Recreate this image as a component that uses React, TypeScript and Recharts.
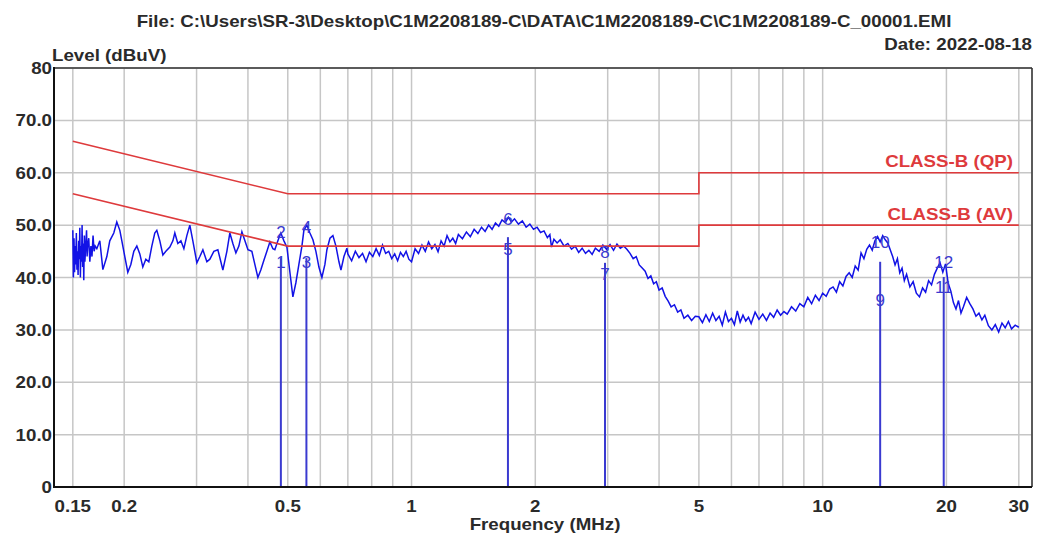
import { ComposedChart, Line, XAxis, YAxis, CartesianGrid, ReferenceLine, Scatter } from "recharts";

const TITLE = "File: C:\\Users\\SR-3\\Desktop\\C1M2208189-C\\DATA\\C1M2208189-C\\C1M2208189-C_00001.EMI";
const DATE = "Date: 2022-08-18";

const gridFreqs = [0.15, 0.2, 0.3, 0.4, 0.5, 0.6, 0.7, 0.8, 0.9, 1, 2, 3, 4, 5, 6, 7, 8, 9, 10, 20, 30];
const labelFreqs = [0.15, 0.2, 0.5, 1, 2, 5, 10, 20, 30];
const levelTicks = [0, 10, 20, 30, 40, 50, 60, 70, 80];

// limit lines (freq MHz, dBuV)
const qpLimit: [number, number][] = [[0.15, 66], [0.5, 56], [5, 56], [5, 60], [30, 60]];
const avLimit: [number, number][] = [[0.15, 56], [0.5, 46], [5, 46], [5, 50], [30, 50]];

// markers: odd = lower label on the line, even = upper label
const markerFreq = [0.481, 0.555, 1.716, 2.955, 13.8, 19.7];
const markerTop = [43.7, 43.7, 47.7, 42.8, 43.0, 40.1];
const oddLevel = [42.8, 42.8, 45.3, 40.5, 35.7, 38.0];
const evenLevel = [48.5, 49.6, 51.0, 44.7, 46.6, 42.8];

// scan trace
const trace: [number, number][] = [
  [0.15, 49], [0.1505, 40], [0.151, 47.5], [0.1515, 41], [0.152, 46], [0.1525, 42.5], [0.153, 48.5], [0.1535, 41.5],
  [0.154, 45], [0.1545, 40.5], [0.155, 47], [0.1555, 43.5], [0.156, 49.5], [0.1565, 40], [0.157, 46], [0.1575, 43],
  [0.158, 50], [0.1585, 42], [0.159, 46.5], [0.1595, 39.5], [0.16, 48], [0.1605, 43], [0.161, 45], [0.162, 49],
  [0.1625, 44], [0.163, 46], [0.164, 47.5], [0.165, 43], [0.166, 46], [0.167, 44], [0.168, 48], [0.169, 45], [0.17, 46],
  [0.1716, 45.5], [0.1745, 47], [0.1775, 41.5], [0.1815, 44], [0.1845, 47], [0.1887, 48.5], [0.1919, 50.6], [0.1952, 49],
  [0.1974, 47], [0.2007, 44], [0.2041, 41], [0.2076, 42.5], [0.2111, 45], [0.2147, 46], [0.2183, 44.5], [0.222, 42],
  [0.2258, 43.5], [0.2296, 43], [0.2335, 46], [0.2374, 48.5], [0.2401, 49], [0.2442, 47], [0.2484, 44.3], [0.2526, 45],
  [0.2583, 45.8], [0.2627, 47], [0.2656, 48.5], [0.2701, 46.5], [0.2748, 47], [0.2794, 45.5], [0.2841, 48], [0.2889, 50],
  [0.2938, 47], [0.3005, 42.8], [0.3056, 44], [0.3108, 45.3], [0.3178, 43], [0.3232, 43.5], [0.3305, 45], [0.338, 45.3],
  [0.3437, 43], [0.3476, 41.4], [0.3555, 45], [0.3615, 48.5], [0.3676, 46.5], [0.3739, 44.7], [0.3802, 46], [0.3867, 48.7],
  [0.3933, 47], [0.4, 45.3], [0.4089, 45], [0.4158, 42.5], [0.4229, 40], [0.4301, 41.5], [0.4374, 43.3], [0.4448, 45],
  [0.4524, 46.8], [0.46, 45.5], [0.4651, 45.3], [0.473, 47], [0.481, 48.5], [0.4893, 47], [0.4976, 45.8], [0.506, 41],
  [0.5145, 36.3], [0.5232, 39], [0.5321, 42.5], [0.5412, 46], [0.5472, 49], [0.5565, 50], [0.566, 48.5], [0.5756, 47.2],
  [0.5853, 45], [0.5952, 42], [0.6053, 40], [0.6156, 42.5], [0.6225, 45.3], [0.6332, 47.5], [0.6438, 48], [0.6548, 46],
  [0.6659, 43], [0.6734, 41.4], [0.6848, 44], [0.6963, 45.6],
  [0.7, 44.5], [0.715, 43.2], [0.73, 45], [0.745, 43.8], [0.76, 44.6], [0.775, 43], [0.79, 44.8], [0.805, 44],
  [0.82, 45.5], [0.835, 44.2], [0.85, 46.2], [0.865, 44.6], [0.88, 45], [0.895, 43.6], [0.91, 44.5], [0.925, 43.2],
  [0.94, 44.8], [0.955, 44], [0.97, 45], [0.985, 43.5], [1.0, 43],
  [1.02, 45.5], [1.04, 44.6], [1.06, 46.2], [1.08, 45], [1.1, 46.8], [1.12, 45.5], [1.14, 46.3], [1.16, 44.9],
  [1.18, 47], [1.2, 46], [1.22, 48], [1.24, 46.8], [1.26, 47.5], [1.28, 46.5], [1.3, 48.2], [1.33, 47.4],
  [1.36, 48.7], [1.39, 47.8], [1.42, 49.2], [1.45, 48.4], [1.48, 49.6], [1.51, 48.8], [1.54, 50], [1.57, 49.2],
  [1.6, 50.4], [1.63, 49.8], [1.66, 51], [1.69, 50.5], [1.72, 51.5], [1.75, 50.6], [1.78, 51.2],
  [1.82, 50.2], [1.86, 50.8], [1.9, 49.6], [1.94, 50.2], [1.98, 49.2], [2.02, 49.6], [2.06, 48.6], [2.1, 48.9],
  [2.14, 47.6], [2.17, 48.2], [2.19, 45.8], [2.22, 47.3], [2.26, 46.6], [2.3, 47.2], [2.35, 46], [2.4, 46.5],
  [2.45, 45.4], [2.5, 46], [2.55, 44.8], [2.6, 45.6], [2.65, 44.6], [2.7, 45.2], [2.75, 44.4], [2.8, 45.6],
  [2.86, 45], [2.92, 46.2], [2.98, 45.4], [3.04, 46.3], [3.1, 45.2], [3.16, 46.4], [3.22, 45.6], [3.28, 46],
  [3.34, 45.4], [3.4, 44.6], [3.46, 43.6], [3.52, 44], [3.58, 42.4], [3.64, 41.8], [3.7, 41.2], [3.76, 39.8],
  [3.82, 40.3], [3.88, 38.8], [3.94, 39.2], [4.0, 37.6], [4.07, 38], [4.14, 36.4], [4.21, 35.5], [4.28, 34.4],
  [4.36, 34.8], [4.44, 33.4], [4.52, 33.8], [4.6, 32.2], [4.7, 32.8], [4.8, 31.8], [4.9, 32.6], [5.0, 32.5],
  [5.1, 31.4], [5.2, 32.9], [5.3, 31.6], [5.4, 33.2], [5.5, 31.8], [5.6, 32.6], [5.7, 30.9], [5.8, 33.4],
  [5.9, 31.6], [6.0, 32.2], [6.1, 31], [6.2, 33.6], [6.3, 31.5], [6.4, 32.8], [6.5, 31.7], [6.6, 32.4],
  [6.7, 31.2], [6.85, 33.4], [7.0, 32], [7.15, 33], [7.3, 31.8], [7.45, 33.2], [7.6, 32.4], [7.75, 33.8],
  [7.9, 32.8], [8.05, 33.5], [8.2, 33], [8.4, 34.4], [8.6, 33.6], [8.8, 35], [9.0, 34.4], [9.2, 36.2],
  [9.4, 35], [9.6, 36.6], [9.8, 35.6], [10.0, 37], [10.2, 36.4], [10.4, 37.8], [10.6, 38.2], [10.8, 37.2],
  [11.0, 39.2], [11.2, 38.4], [11.4, 40.2], [11.6, 40.9], [11.8, 40], [12.0, 42.2], [12.2, 41.4], [12.4, 44.7],
  [12.6, 43.6], [12.8, 45.4], [13.0, 46.2], [13.2, 45.2], [13.4, 47], [13.6, 47.8], [13.8, 46.8], [14.0, 48],
  [14.2, 47.2], [14.4, 46.6], [14.6, 45.3], [14.8, 44], [15.0, 42.4], [15.2, 43.6], [15.4, 40.9], [15.6, 41.8],
  [15.8, 39.4], [16.0, 40.6], [16.3, 38.2], [16.6, 39.2], [16.9, 37], [17.2, 36.3], [17.5, 38], [17.8, 37.2],
  [18.1, 39.4], [18.4, 38.6], [18.7, 40.6], [19.0, 41.8], [19.3, 42.8], [19.6, 41], [19.9, 42.6], [20.2, 38.9],
  [20.5, 37.4], [20.8, 35.2], [21.1, 34], [21.4, 35.6], [21.7, 33.2], [22.0, 34.4], [22.4, 36.2], [22.8, 35],
  [23.2, 34], [23.6, 32.6], [24.0, 33.2], [24.4, 31.9], [24.8, 32.8], [25.3, 30.8], [25.8, 30], [26.3, 31],
  [26.8, 29.6], [27.3, 31.3], [27.8, 30.4], [28.3, 31.6], [28.8, 30.2], [29.4, 30.9], [30.0, 30.5],
];

const toRows = (pts: [number, number][]) => pts.map(([f, v]) => ({ f, v }));
const traceData = toRows(trace);
const qpData = toRows(qpLimit);
const avData = toRows(avLimit);
const markerLabels = markerFreq.flatMap((f, i) => [
  { f, v: oddLevel[i], n: String(2 * i + 1) },
  { f, v: evenLevel[i], n: String(2 * i + 2) },
]);

const FONT = "'Liberation Sans', Arial, sans-serif";
const SX = 1.17; // text in the picture is wider than normal
const TEXT = "#2a2a2a";
const RED = "#de3a3c";
const MARK = "#3a3ad0";

const FreqTick = (props: any) => {
  const { x, y, payload } = props;
  if (!labelFreqs.includes(payload.value)) return <g />;
  return (
    <text transform={`translate(${x},${y + 25}) scale(${SX},1)`} textAnchor="middle" fontFamily={FONT} fontWeight={700} fontSize={16} fill={TEXT}>
      {payload.value}
    </text>
  );
};

const LevelTick = (props: any) => {
  const { x, y, payload } = props;
  const v = payload.value;
  const txt = v === 0 || v === 80 ? String(v) : v.toFixed(1);
  return (
    <text transform={`translate(${x - 2},${y + 6}) scale(${SX},1)`} textAnchor="end" fontFamily={FONT} fontWeight={700} fontSize={16} fill={TEXT}>
      {txt}
    </text>
  );
};

const MarkerLabel = (props: any) => {
  const { cx, cy, payload } = props;
  return (
    <text x={cx} y={cy} textAnchor="middle" dominantBaseline="central" fontFamily={FONT} fontSize={17} fill={MARK}>
      {payload.n}
    </text>
  );
};

const Txt = ({ x, y, anchor, fill, children }: any) => (
  <text transform={`translate(${x},${y}) scale(${SX},1)`} textAnchor={anchor} fontFamily={FONT} fontWeight={700} fontSize={16} fill={fill}>
    {children}
  </text>
);

export default function App() {
  return (
    <div style={{ position: "absolute", left: 0, top: 0, width: 1042, height: 537, background: "#fff" }}>
      <ComposedChart width={1042} height={537} margin={{ top: 68, right: 10, bottom: 0, left: 0 }}>
        <CartesianGrid stroke="#c6c6c6" strokeWidth={1.5} />
        <XAxis
          dataKey="f"
          type="number"
          scale="log"
          domain={[0.135, 32.3]}
          allowDataOverflow
          ticks={gridFreqs}
          interval={0}
          tick={<FreqTick />}
          tickLine={false}
          tickSize={0}
          tickMargin={0}
          axisLine={false}
          height={50}
        />
        <YAxis
          type="number"
          domain={[0, 80]}
          allowDataOverflow
          ticks={levelTicks}
          interval={0}
          width={54}
          tick={<LevelTick />}
          tickLine={false}
          tickSize={0}
          tickMargin={0}
          axisLine={false}
        />
        <Line data={traceData} dataKey="v" type="linear" stroke="#1212e6" strokeWidth={1.5} dot={false} activeDot={false} isAnimationActive={false} />
        <Line data={qpData} dataKey="v" type="linear" stroke={RED} strokeWidth={1.6} dot={false} activeDot={false} isAnimationActive={false} />
        <Line data={avData} dataKey="v" type="linear" stroke={RED} strokeWidth={1.6} dot={false} activeDot={false} isAnimationActive={false} />
        {markerFreq.map((f, i) => (
          <ReferenceLine key={i} segment={[{ x: f, y: 0 }, { x: f, y: markerTop[i] }]} stroke={MARK} strokeWidth={2} ifOverflow="visible" />
        ))}
        <Scatter data={markerLabels} dataKey="v" shape={<MarkerLabel />} isAnimationActive={false} />
      </ComposedChart>
      <svg width={1042} height={537} style={{ position: "absolute", left: 0, top: 0, pointerEvents: "none" }}>
        <line x1={54} y1={68} x2={1032} y2={68} stroke="#333" strokeWidth={1.5} />
        <line x1={1032} y1={68} x2={1032} y2={487} stroke="#333" strokeWidth={1.5} />
        <line x1={54} y1={67} x2={54} y2={488} stroke="#111" strokeWidth={2} />
        <line x1={54} y1={487} x2={1032} y2={487} stroke="#111" strokeWidth={2} />
        <Txt x={544} y={27} anchor="middle" fill={TEXT}>{TITLE}</Txt>
        <Txt x={1032} y={50} anchor="end" fill={TEXT}>{DATE}</Txt>
        <Txt x={52} y={61} anchor="start" fill={TEXT}>Level (dBuV)</Txt>
        <Txt x={545} y={530} anchor="middle" fill={TEXT}>Frequency (MHz)</Txt>
        <Txt x={1013} y={167} anchor="end" fill={RED}>CLASS-B (QP)</Txt>
        <Txt x={1013} y={220} anchor="end" fill={RED}>CLASS-B (AV)</Txt>
      </svg>
    </div>
  );
}
